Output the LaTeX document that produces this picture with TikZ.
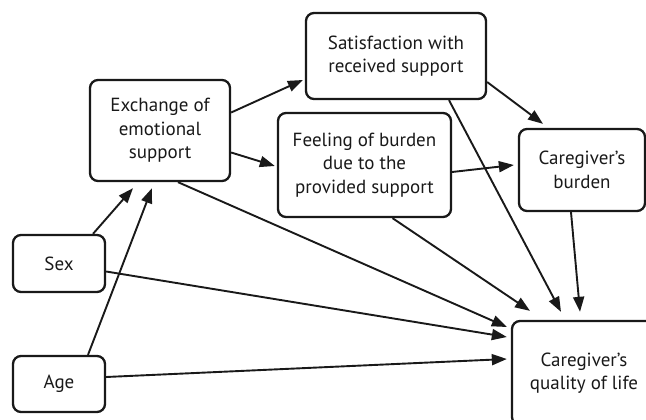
\documentclass[tikz,border=0pt]{standalone}
\usepackage{fontspec}
\setmainfont{PT Sans}
\usetikzlibrary{arrows.meta}
\tikzset{
	varbox/.style={draw, line width=2.3pt, rounded corners=8pt, align=center, inner sep=0pt,
		font=\fontsize{19}{23.5}\selectfont, text=black!85, color=black!90},
	path/.style={line width=1.9pt, color=black!90, -{Triangle[length=15pt,width=11pt]}}
}

\begin{document}
\begin{tikzpicture}[x=1pt, y=-1pt]
		%%%%% START %%%%%
		
		\clip (0, 0) rectangle (646, 420);
		
		\node[varbox, minimum width=140pt, minimum height=101pt] (exch) at (160, 130.5) {Exchange of\\emotional\\support};
		\node[varbox, minimum width=180pt, minimum height=86pt] (sat) at (396, 56) {Satisfaction with\\received support};
		\node[varbox, minimum width=173pt, minimum height=104pt] (feel) at (364.5, 165) {Feeling of burden\\due to the\\provided support};
		\node[varbox, minimum width=126pt, minimum height=82pt] (burd) at (582, 170) {Caregiver’s\\burden};
		\node[varbox, minimum width=92pt, minimum height=57pt] (sex) at (59, 263.5) {Sex};
		\node[varbox, minimum width=92pt, minimum height=56pt] (age) at (59, 384) {Age};
		\node[varbox, minimum width=144pt, minimum height=104pt] (qol) at (584, 373) {Caregiver’s\\quality of life};
		
		% into the exchange of support
		\draw[path] ([xshift=34pt]sex.north) -- ([xshift=-27pt, yshift=-6pt]exch.south);
		\draw[path] ([xshift=29pt]age.north) -- ([xshift=-8pt, yshift=-6pt]exch.south);
		
		\draw[path] ([yshift=18pt]exch.east) -- ([xshift=-2pt, yshift=-24pt]sat.west);
		\draw[path] ([yshift=-22pt]exch.east) -- ([xshift=-2pt, yshift=-1pt]feel.west);
		
		\draw[path] ([yshift=-26pt]sat.east) -- ([xshift=-39pt, yshift=4pt]burd.north);
		\draw[path] ([yshift=-7pt]feel.east) -- ([xshift=-4pt, yshift=5pt]burd.west);
		
		% into the quality of life
		\draw[path] ([xshift=18pt]exch.south) -- ([xshift=-4pt, yshift=46pt]qol.west);
		\draw[path] ([yshift=-8pt]sex.east) -- ([xshift=-4pt, yshift=36pt]qol.west);
		\draw[path] ([yshift=7pt]age.east) -- ([xshift=-4pt, yshift=14pt]qol.west);
		\draw[path] ([xshift=28pt]feel.south) -- ([xshift=-54pt, yshift=9pt]qol.north);
		\draw[path] ([xshift=53pt]sat.south) -- ([xshift=-23pt, yshift=8pt]qol.north);
		\draw[path] ([xshift=-11pt]burd.south) -- ([xshift=-4pt, yshift=8pt]qol.north);
		
		%%%%% END %%%%%
\end{tikzpicture}
\end{document}
